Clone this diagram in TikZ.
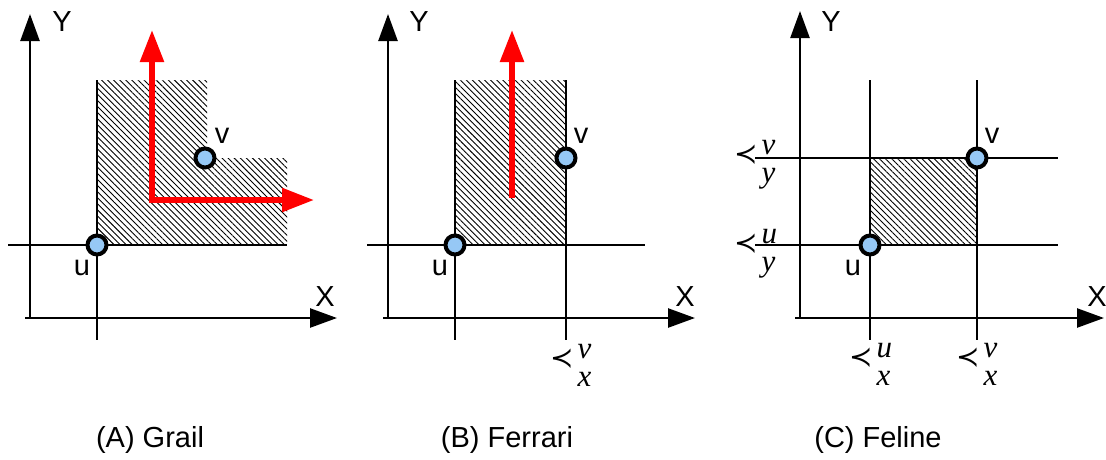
\documentclass[tikz,border=0pt]{standalone}
\usepackage{fontspec}
\setmainfont{Liberation Sans}
\newfontfamily\precfont{DejaVu Sans}
\newfontfamily\itserif{Liberation Serif}
\usetikzlibrary{arrows.meta,patterns.meta}
\definecolor{ptfill}{RGB}{150,200,245}
\newcommand{\plab}[2]{{\precfont\fontsize{28}{30}\selectfont ≺}\hspace{4pt}\rlap{\raisebox{9pt}{\itserif\itshape #1}}\raisebox{-19pt}{\itserif\itshape #2}}
\tikzset{
  ax/.style={line width=2.5pt,-{Triangle[length=27pt,width=19pt]}},
  ln/.style={line width=2.5pt},
  redarr/.style={draw=red,line width=5.5pt,{Triangle[length=32pt,width=23pt]}-{Triangle[length=32pt,width=23pt]}},
  redone/.style={draw=red,line width=5.5pt,-{Triangle[length=32pt,width=23pt]}},
  hatch/.style={pattern={Lines[angle=-45,distance=4.3pt,line width=0.9pt]}},
  pt/.style={circle,draw,line width=4pt,fill=ptfill,minimum size=19pt,inner sep=0pt},
  lbl/.style={font=\fontsize{29}{34}\selectfont,inner sep=0pt},
  captext/.style={font=\fontsize{29}{34}\selectfont,inner sep=0pt},
  mlab/.style={font=\fontsize{31}{34}\selectfont,inner sep=0pt,anchor=base west}
}
\begin{document}
\begin{tikzpicture}[x=1pt,y=-1pt]
\useasboundingbox (0,0) rectangle (1106,459);
% ---------- Panel A ----------
\fill[hatch] (97,80) -- (207,80) -- (207,158) -- (287,158) -- (287,245) -- (97,245) -- cycle;
\coordinate (Ao) at (30,318);
\coordinate (AyT) at (30,14);
\coordinate (Axs) at (25,318);
\coordinate (AxT) at (337,318);
\draw[ax] (Ao) -- (AyT);
\draw[ax] (Axs) -- (AxT);
\coordinate (Ah1) at (8,245); \coordinate (Ah2) at (287,245);
\coordinate (Av1) at (97,80); \coordinate (Av2) at (97,340);
\draw[ln] (Ah1) -- (Ah2);
\draw[ln] (Av1) -- (Av2);
\coordinate (ArT) at (152,30); \coordinate (ArC) at (152,200); \coordinate (ArR) at (314,200);
\draw[redarr] (ArT) -- (ArC) -- (ArR);
\node[pt] (Au) at (97,245) {};
\node[pt] (Av) at (205,158) {};
\node[lbl] (AuL) at (82,268) {u};
\node[lbl] (AvL) at (222,136) {v};
\node[lbl] (AY) at (62,22) {Y};
\node[lbl] (AX) at (325,297) {X};
\node[captext] (Acap) at (150,440) {(A) Grail};
% ---------- Panel B ----------
\fill[hatch] (455,80) rectangle (566,245);
\coordinate (Bo) at (388,318);
\coordinate (ByT) at (388,14);
\coordinate (Bxs) at (383,318);
\coordinate (BxT) at (695,318);
\draw[ax] (Bo) -- (ByT);
\draw[ax] (Bxs) -- (BxT);
\coordinate (Bh1) at (367,245); \coordinate (Bh2) at (645,245);
\coordinate (Bv1) at (455,80); \coordinate (Bv2) at (455,340);
\coordinate (Bw1) at (566,80); \coordinate (Bw2) at (566,340);
\draw[ln] (Bh1) -- (Bh2);
\draw[ln] (Bv1) -- (Bv2);
\draw[ln] (Bw1) -- (Bw2);
\coordinate (BrB) at (512,198); \coordinate (BrT) at (512,30);
\draw[redone] (BrB) -- (BrT);
\node[pt] (Bu) at (455,245) {};
\node[pt] (Bv) at (566,158) {};
\node[lbl] (BuL) at (440,268) {u};
\node[lbl] (BvL) at (581,136) {v};
\node[lbl] (BY) at (419,22) {Y};
\node[lbl] (BX) at (685,297) {X};
\node[mlab] (Bxv) at (550,367) {\plab{v}{x}};
\node[captext] (Bcap) at (507,440) {(B) Ferrari};
% ---------- Panel C ----------
\fill[hatch] (870,158) rectangle (977,245);
\coordinate (Co) at (800,318);
\coordinate (CyT) at (800,11);
\coordinate (Cxs) at (795,318);
\coordinate (CxT) at (1104,318);
\draw[ax] (Co) -- (CyT);
\draw[ax] (Cxs) -- (CxT);
\coordinate (Ch1) at (755,245); \coordinate (Ch2) at (1058,245);
\coordinate (Cg1) at (755,158); \coordinate (Cg2) at (1058,158);
\coordinate (Cv1) at (870,80); \coordinate (Cv2) at (870,340);
\coordinate (Cw1) at (977,80); \coordinate (Cw2) at (977,340);
\draw[ln] (Ch1) -- (Ch2);
\draw[ln] (Cg1) -- (Cg2);
\draw[ln] (Cv1) -- (Cv2);
\draw[ln] (Cw1) -- (Cw2);
\node[pt] (Cu) at (870,245) {};
\node[pt] (Cv) at (977,158) {};
\node[lbl] (CuL) at (853,268) {u};
\node[lbl] (CvL) at (992,136) {v};
\node[lbl] (CY) at (831,22) {Y};
\node[lbl] (CX) at (1097,297) {X};
\node[mlab] (Cxu) at (849,366) {\plab{u}{x}};
\node[mlab] (Cxv) at (956,366) {\plab{v}{x}};
\node[mlab] (Cyv) at (734,163) {\plab{v}{y}};
\node[mlab] (Cyu) at (734,252) {\plab{u}{y}};
\node[captext] (Ccap) at (878,440) {(C) Feline};
\end{tikzpicture}
\end{document}
